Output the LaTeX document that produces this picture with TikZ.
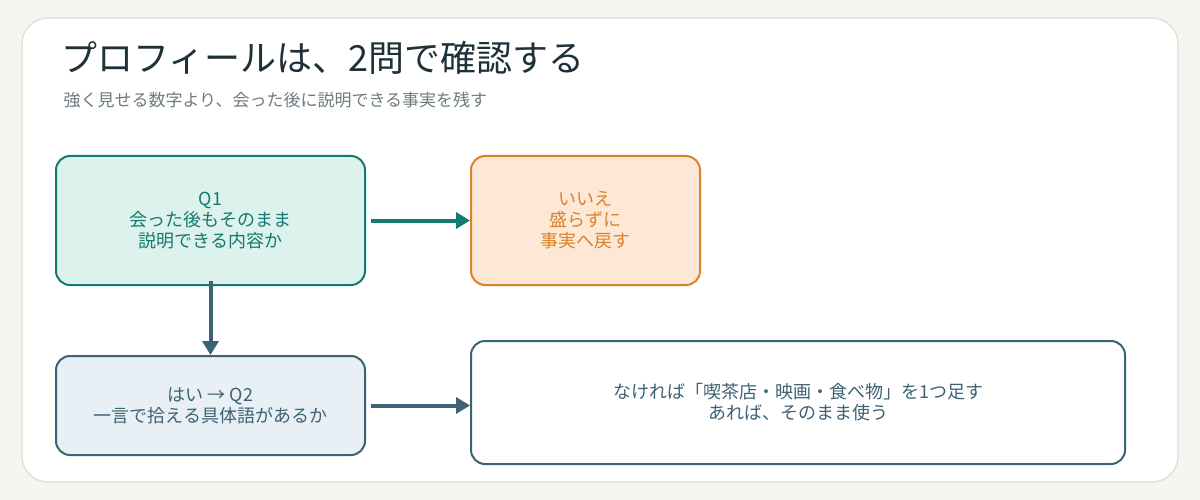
\documentclass[tikz,border=0pt]{standalone}
\usepackage{fontspec}
\setmainfont{Noto Sans CJK JP}
\usetikzlibrary{arrows.meta}
\definecolor{bgc}{HTML}{F5F4EE}
\definecolor{cardline}{HTML}{DDDDD8}
\definecolor{ink}{HTML}{1F3138}
\definecolor{subink}{HTML}{6E7B80}
\definecolor{teal}{HTML}{137A70}
\definecolor{tealfill}{HTML}{DDF2EC}
\definecolor{orng}{HTML}{D9822B}
\definecolor{orngfill}{HTML}{FDE8D6}
\definecolor{slate}{HTML}{3D6275}
\definecolor{slatefill}{HTML}{E8F0F6}
\tikzset{
	box/.style={draw, rounded corners=14pt, line width=2pt, align=center, font=\fontsize{18}{21}\selectfont, inner sep=0pt},
	flow/.style={line width=4pt, -{Triangle[length=14pt,width=16pt]}}
}
\begin{document}
\begin{tikzpicture}[x=1pt, y=-1pt]
	% --- page and card ---
	\fill[bgc] (0,0) rectangle (1200,500);
	\useasboundingbox (0,0) rectangle (1200,500);
	\draw[cardline, fill=white, line width=1.2pt, rounded corners=26pt] (22,18) rectangle (1178,482);
	\node[anchor=base west, text=ink, font=\fontsize{36}{40}\selectfont] (title) at (58,72) {プロフィールは、2問で確認する};
	\node[anchor=base west, text=subink, font=\fontsize{17}{20}\selectfont] (sub) at (60,107) {強く見せる数字より、会った後に説明できる事実を残す};

	% --- boxes ---
	\node[box, draw=teal, fill=tealfill, text=teal, minimum width=309pt, minimum height=129pt] (q1) at (210.5,220.5) {Q1\\会った後もそのまま\\説明できる内容か};
	\node[box, draw=orng, fill=orngfill, text=orng, minimum width=229pt, minimum height=129pt] (no) at (585.5,220.5) {いいえ\\盛らずに\\事実へ戻す};
	\node[box, draw=slate, fill=slatefill, text=slate, minimum width=309pt, minimum height=99pt] (q2) at (210.5,405.5) {はい → Q2\\一言で拾える具体語があるか};
	\node[box, draw=slate, fill=white, text=slate, minimum width=654pt, minimum height=123pt] (add) at (798,402.5) {なければ「喫茶店・映画・食べ物」を1つ足す\\あれば、そのまま使う};

	% --- arrows ---
	\draw[flow, teal] ([xshift=5pt]q1.east) -- (no.west);
	\draw[flow, slate] ([yshift=5pt]q1.south) -- (q2.north);
	\draw[flow, slate] ([xshift=5pt]q2.east) -- (q2.east -| add.west);
\end{tikzpicture}
\end{document}
